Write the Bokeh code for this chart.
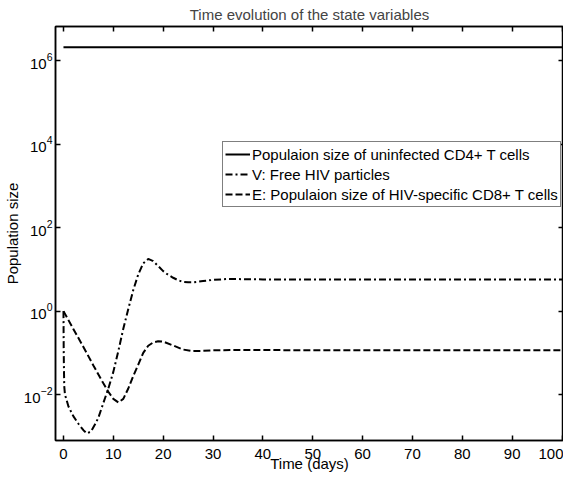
from bokeh.plotting import figure
from bokeh.models import (FixedTicker, LogAxis, LinearAxis, LogTickFormatter,
                          Legend, LegendItem, Range1d)
from bokeh.embed import file_html
from bokeh.resources import INLINE

# ---- data ----
t_T = [0, 100]
T_vals = [2.1e6, 2.1e6]

t_V = [0, 0.05, 0.15, 0.3, 1, 2, 3, 4, 4.7, 5.5, 6.4, 7, 8, 9, 10, 11, 12, 13,
       14, 15, 16, 17, 18, 19, 20, 21, 22, 23, 24, 25, 26, 28, 30, 33, 40, 60, 100]
V_vals = [1.0, 0.1, 0.016, 0.01, 0.0052, 0.003, 0.002, 0.0014, 0.00118, 0.0013,
          0.002, 0.0028, 0.0063, 0.014, 0.035, 0.11, 0.38, 1.12, 3.2, 7.6, 14,
          17.8, 15.8, 12, 9.1, 7.4, 6.3, 5.5, 5.0, 4.9, 4.9, 5.25, 5.6, 5.9,
          5.75, 5.7, 5.7]

t_E = [0, 2, 4, 6, 8, 9, 10, 11, 12, 13, 14, 15, 16, 17, 18, 19, 20, 22, 24,
       26, 28, 30, 35, 60, 100]
E_vals = [1.0, 0.37, 0.138, 0.05, 0.0186, 0.0117, 0.0079, 0.0065, 0.0079,
          0.014, 0.028, 0.052, 0.1, 0.148, 0.178, 0.19, 0.186, 0.15, 0.12,
          0.11, 0.112, 0.115, 0.117, 0.115, 0.115]

x_ticks = [0, 10, 20, 30, 40, 50, 60, 70, 80, 90, 100]
y_ticks = [1e-2, 1e0, 1e2, 1e4, 1e6]

labels = ["Populaion size of uninfected CD4+ T cells",
          "V: Free HIV particles",
          "E: Populaion size of HIV-specific CD8+ T cells"]

FONT = "Liberation Sans"
FS = "15px"

p = figure(frame_width=508, frame_height=414, y_axis_type="log",
           x_range=Range1d(-1.6, 100.3), y_range=Range1d(10**-3.1, 10**6.82),
           output_backend="svg", toolbar_location=None,
           title="Time evolution of the state variables",
           min_border_left=0, min_border_right=0, min_border_bottom=0,
           min_border_top=0)

p.title.text_font = FONT
p.title.text_font_size = FS
p.title.text_font_style = "normal"
p.title.align = "center"
p.title.standoff = 7

p.grid.visible = False
p.outline_line_color = "black"
p.outline_line_width = 1.5
p.background_fill_color = "white"
p.border_fill_color = "white"

def style_axis(ax, show_labels=True):
    ax.axis_line_color = "black"
    ax.axis_line_width = 1.5
    ax.major_tick_in = 5
    ax.major_tick_out = 0
    ax.major_tick_line_width = 1.5
    ax.minor_tick_line_color = None
    ax.major_label_text_font = FONT
    ax.major_label_text_font_size = FS if show_labels else "1px"
    ax.major_label_text_color = "black"
    if not show_labels:
        ax.major_label_text_alpha = 0
        ax.major_label_standoff = 0
        ax.axis_label_standoff = 0
    ax.axis_label_text_font = FONT
    ax.axis_label_text_font_size = FS
    ax.axis_label_text_font_style = "normal"
    ax.axis_label_text_color = "black"

xa = p.xaxis[0]
xa.ticker = FixedTicker(ticks=x_ticks)
xa.axis_label = "Time (days)"
style_axis(xa)
xa.major_label_standoff = 8
xa.axis_label_standoff = -7

ya = p.yaxis[0]
ya.ticker = FixedTicker(ticks=y_ticks)
ya.formatter = LogTickFormatter()
ya.axis_label = "Population size"
style_axis(ya)
ya.major_label_standoff = 3
ya.axis_label_standoff = 0

top = LinearAxis(ticker=FixedTicker(ticks=x_ticks))
style_axis(top, show_labels=False)
p.add_layout(top, "above")

right = LogAxis(ticker=FixedTicker(ticks=y_ticks))
style_axis(right, show_labels=False)
p.add_layout(right, "right")

r1 = p.line(t_T, T_vals, line_color="black", line_width=2)
r2 = p.line(t_V, V_vals, line_color="black", line_width=2, line_dash="7 3 2 3")
r3 = p.line(t_E, E_vals, line_color="black", line_width=2, line_dash="7 3")

legend = Legend(items=[LegendItem(label=labels[0], renderers=[r1]),
                       LegendItem(label=labels[1], renderers=[r2]),
                       LegendItem(label=labels[2], renderers=[r3])],
                location=(167, 233))
legend.label_text_font = FONT
legend.label_text_font_size = FS
legend.label_text_color = "black"
legend.glyph_width = 25
legend.glyph_height = 20
legend.label_height = 20
legend.label_standoff = 2
legend.spacing = 0
legend.padding = 2
legend.margin = 0
legend.border_line_color = "black"
legend.border_line_width = 1.5
legend.background_fill_alpha = 1
p.add_layout(legend, "center")

open("out.html", "w").write(file_html(p, INLINE))
